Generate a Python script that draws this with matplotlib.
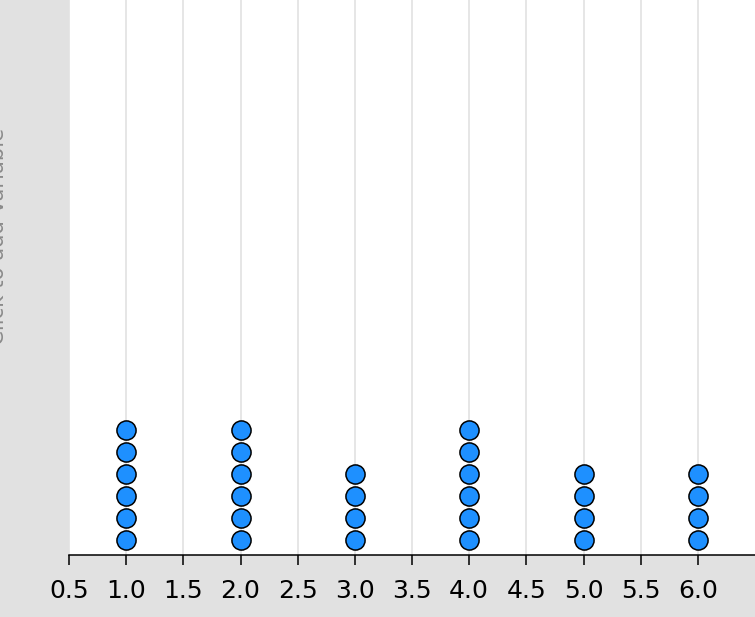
import matplotlib.pyplot as plt

# --- DATA ---
values = [1.0, 2.0, 3.0, 4.0, 5.0, 6.0]
counts = [6, 6, 4, 6, 4, 4]
tick_vals = [0.5, 1.0, 1.5, 2.0, 2.5, 3.0, 3.5, 4.0, 4.5, 5.0, 5.5, 6.0]
tick_labels = ['0.5', '1.0', '1.5', '2.0', '2.5', '3.0', '3.5', '4.0', '4.5', '5.0', '5.5', '6.0']

W, H = 755, 617
fig = plt.figure(figsize=(W / 100, H / 100), dpi=100, facecolor='#e1e1e1')

# plot area in pixels: x 69..755, y 0..555 (from top)
ax = fig.add_axes([69 / W, (H - 555) / H, (W - 69) / W, 555 / H])
ax.set_facecolor('white')

# stack dots: one unit of y per dot
xs, ys = [], []
for v, c in zip(values, counts):
    for i in range(c):
        xs.append(v)
        ys.append(i)
ax.scatter(xs, ys, s=190, color='#1e90ff', edgecolor='black', linewidth=1.1, zorder=3)

ax.set_xlim(0.5, 6.5)
ax.set_ylim(-15 / 22, 540 / 22)
ax.set_xticks(tick_vals)
ax.set_xticklabels(tick_labels, fontsize=18, family='DejaVu Sans')
ax.set_yticks([])
ax.grid(axis='x', color='#e2e2e2', linewidth=1.2, zorder=0)
ax.tick_params(axis='x', length=7, width=1.1, pad=10, colors='black')

for s in ['top', 'right', 'left']:
    ax.spines[s].set_visible(False)
ax.spines['bottom'].set_linewidth(1.1)

# axis drop zone label, mostly cut off at the left edge
fig.text(4 / W, 1 - 236 / H, 'Click to add Variable', rotation=90, color='#8a8a8a',
         fontsize=15.3, ha='center', va='baseline', rotation_mode='anchor')

fig.savefig('out.png', dpi=100, facecolor=fig.get_facecolor())
